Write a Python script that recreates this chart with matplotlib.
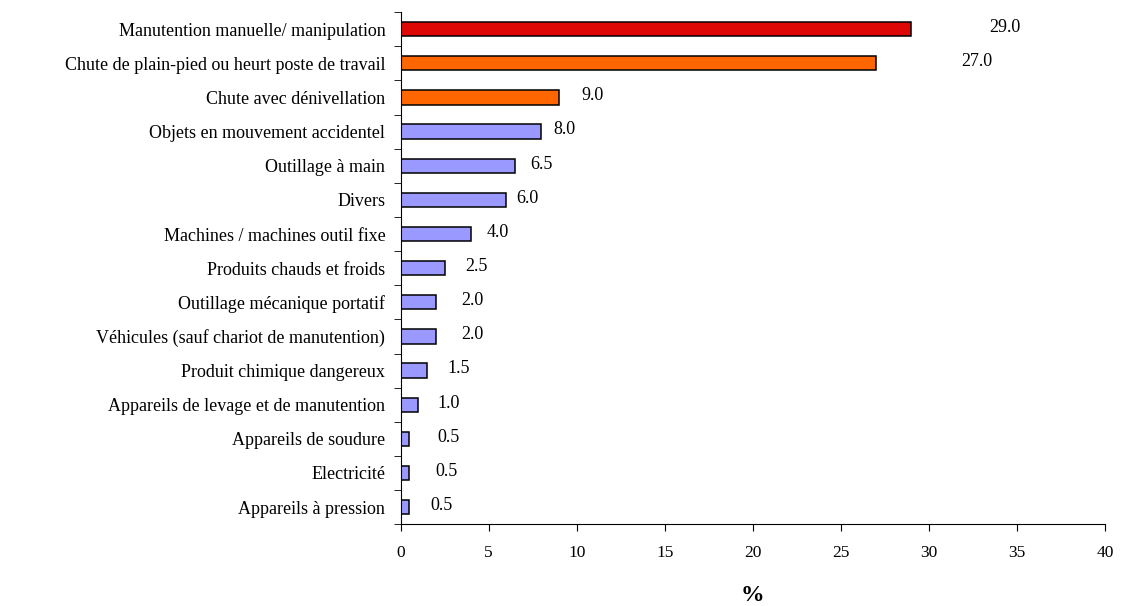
import matplotlib.pyplot as plt
import numpy as np

plt.rcParams['font.family'] = ['Liberation Serif', 'DejaVu Serif']

categories = [
    "Manutention manuelle/ manipulation",
    "Chute de plain-pied ou heurt poste de travail",
    "Chute avec dénivellation",
    "Objets en mouvement accidentel",
    "Outillage à main",
    "Divers",
    "Machines / machines outil fixe",
    "Produits chauds et froids",
    "Outillage mécanique portatif",
    "Véhicules (sauf chariot de manutention)",
    "Produit chimique dangereux",
    "Appareils de levage et de manutention",
    "Appareils de soudure",
    "Electricité",
    "Appareils à pression",
]
values = [29.0, 27.0, 9.0, 8.0, 6.5, 6.0, 4.0, 2.5, 2.0, 2.0, 1.5, 1.0, 0.5, 0.5, 0.5]

# where Excel put the value labels (x, in data units)
label_x = [34.3, 32.7, 10.9, 9.3, 8.0, 7.2, 5.5, 4.3, 4.1, 4.1, 3.3, 2.7, 2.7, 2.6, 2.3]

colors = ["#DD0806", "#FF6600", "#FF6600"] + ["#9999FF"] * 12

fig = plt.figure(figsize=(11.22, 6.06), dpi=100)
ax = fig.add_axes([0.357, 0.135, 0.628, 0.845])

y = np.arange(len(categories))
ax.barh(y, values, height=0.42, color=colors, edgecolor="black", linewidth=1.1)

for yi, v, lx in zip(y, values, label_x):
    ax.text(lx, yi - 0.05, f"{v:.1f}", ha="center", va="center", fontsize=13)

ax.set_ylim(len(categories) - 0.5, -0.5)
ax.set_xlim(0, 40)
ax.set_xticks(np.arange(0, 41, 5))
ax.set_yticks(y)
ax.set_yticklabels(categories, fontsize=13)
ax.set_yticks(np.arange(-0.5, len(categories), 1), minor=True)
ax.tick_params(axis="y", which="major", length=0, pad=11)
ax.tick_params(axis="y", which="minor", length=5, direction="out")
ax.tick_params(axis="x", length=5, direction="out", labelsize=12.5, pad=10)

for s in ["top", "right"]:
    ax.spines[s].set_visible(False)

ax.set_xlabel("%", fontsize=17, fontweight="bold", labelpad=17)

fig.savefig("out.png", dpi=100)
